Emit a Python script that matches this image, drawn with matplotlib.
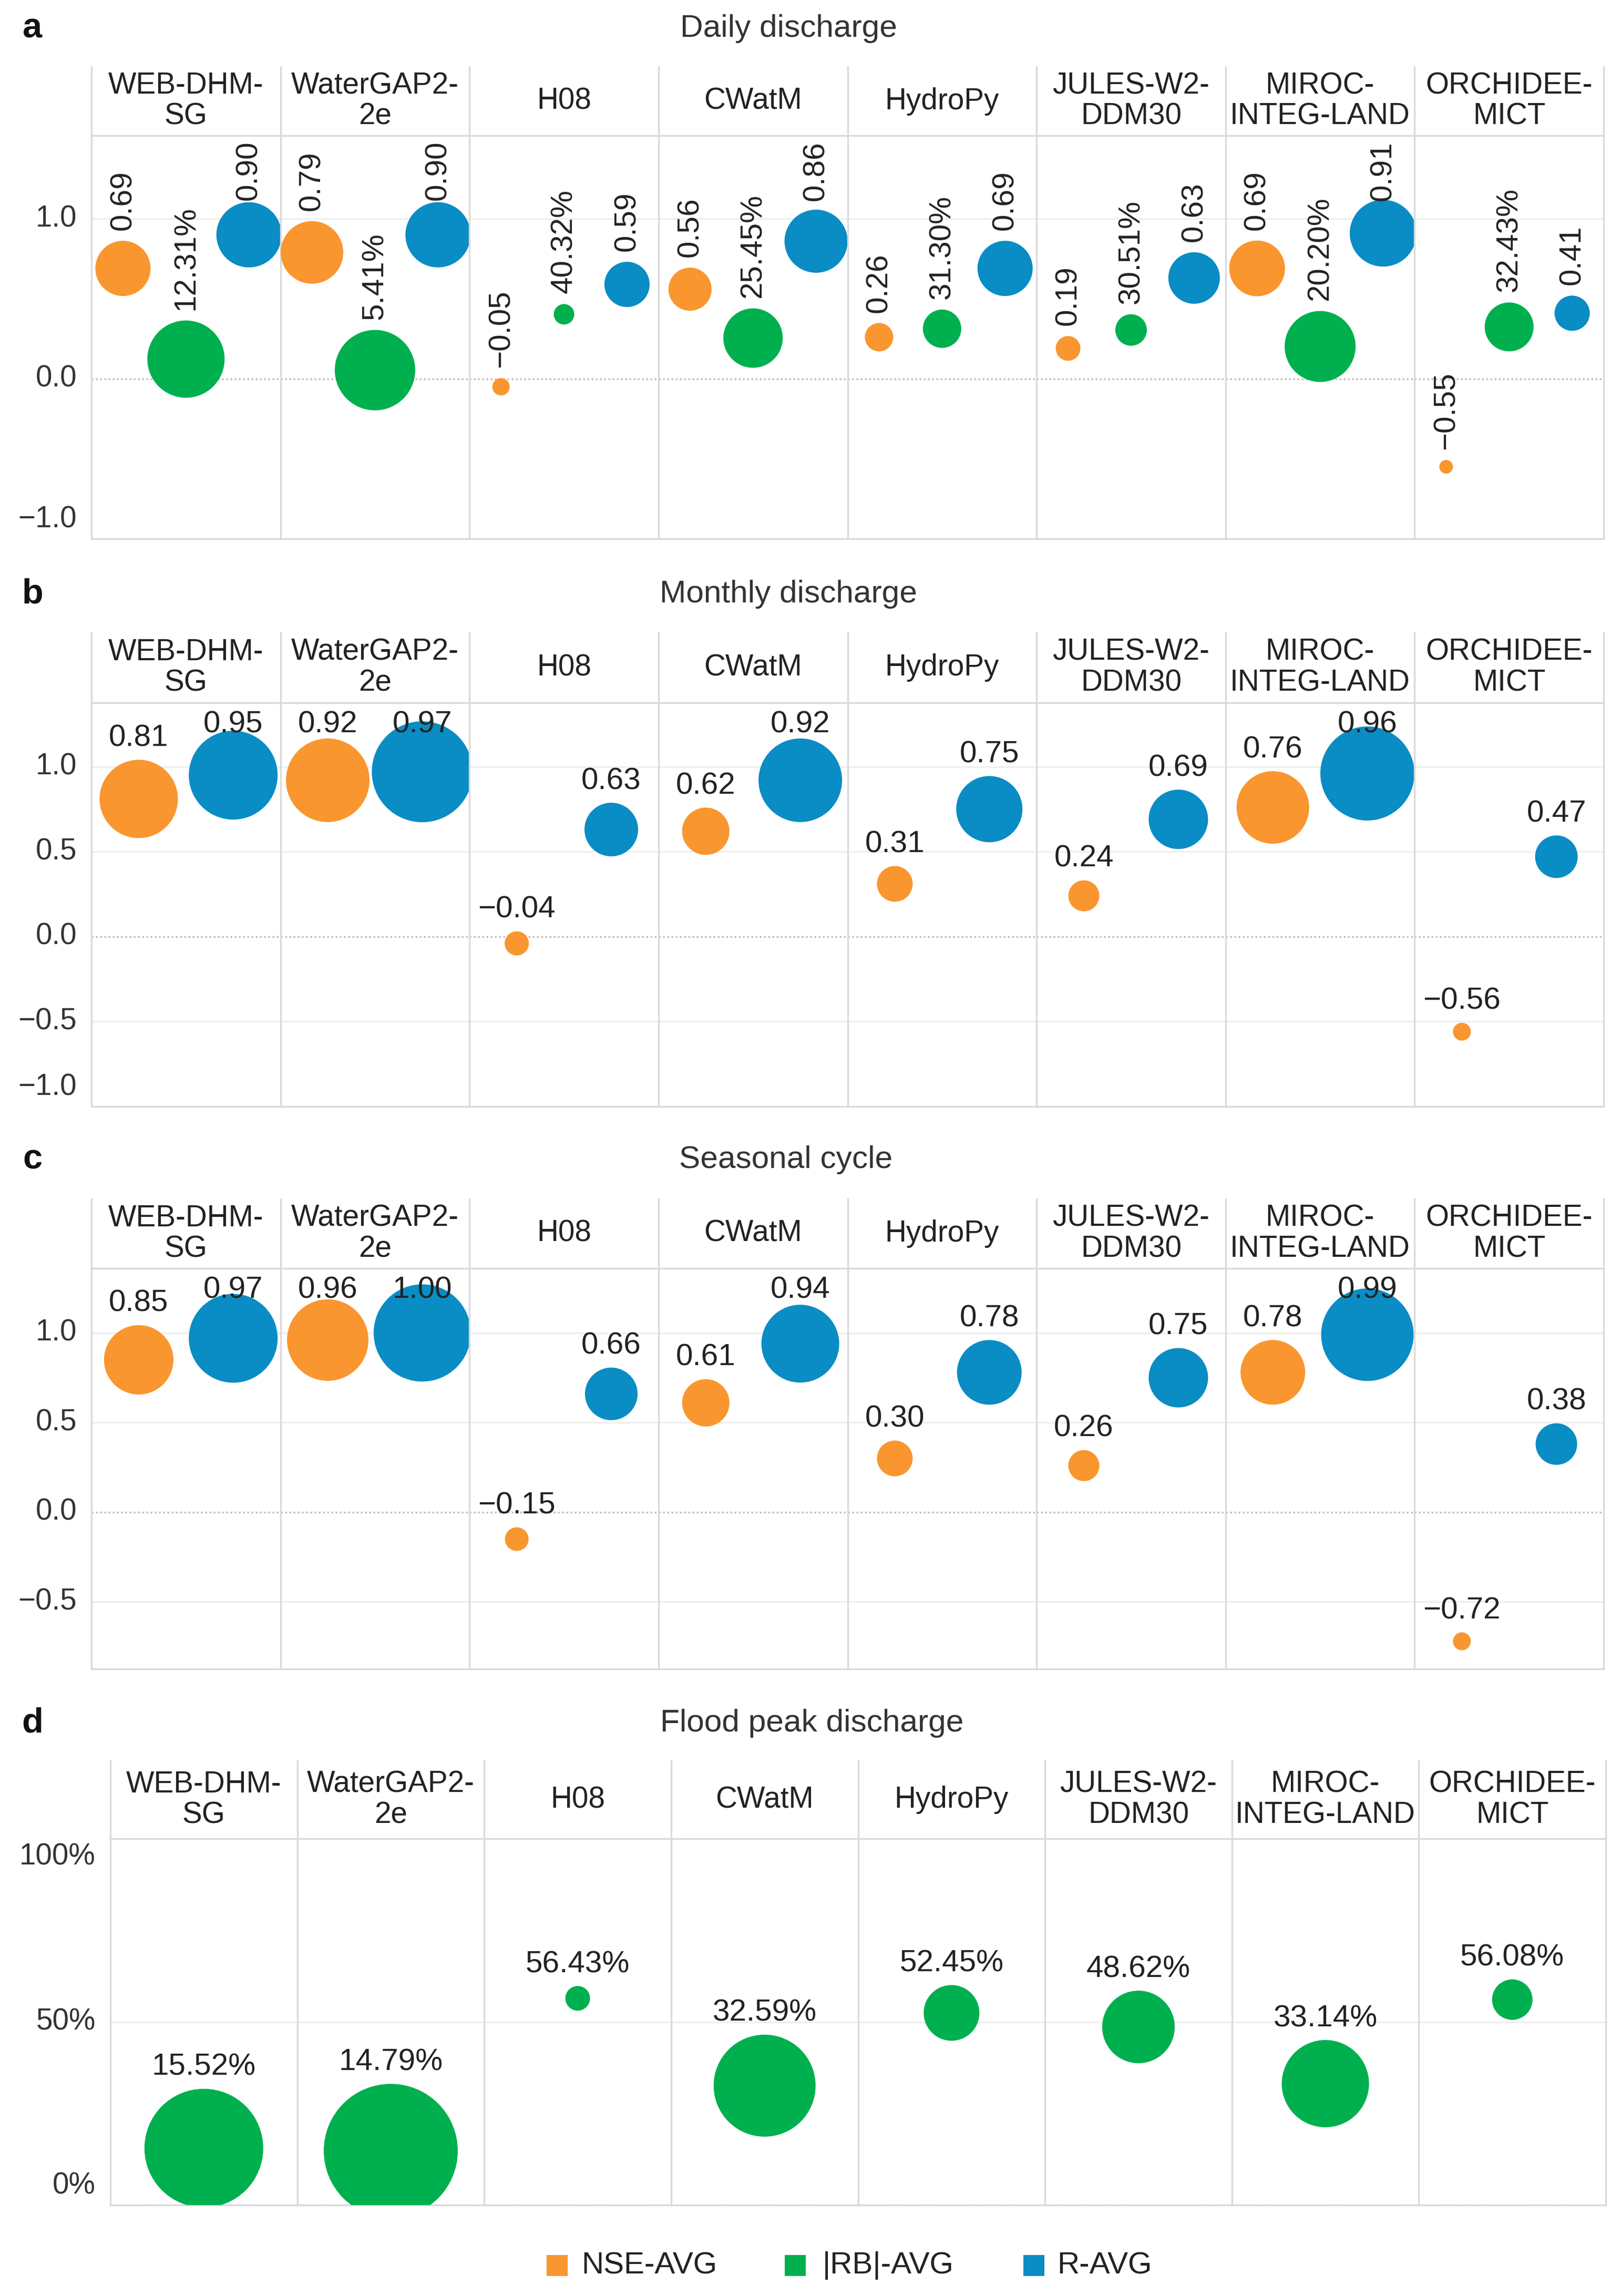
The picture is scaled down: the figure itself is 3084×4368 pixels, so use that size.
import matplotlib
matplotlib.use('Agg')
import matplotlib.pyplot as plt
from matplotlib.lines import Line2D

plt.rcParams['font.family'] = ['Liberation Sans', 'DejaVu Sans']

# ---------------- data ----------------
models = ['WEB-DHM-\nSG', 'WaterGAP2-\n2e', 'H08', 'CWatM', 'HydroPy',
          'JULES-W2-\nDDM30', 'MIROC-\nINTEG-LAND', 'ORCHIDEE-\nMICT']

daily_nse = [0.69, 0.79, -0.05, 0.56, 0.26, 0.19, 0.69, -0.55]
daily_rb = [12.31, 5.41, 40.32, 25.45, 31.30, 30.51, 20.20, 32.43]
daily_r = [0.90, 0.90, 0.59, 0.86, 0.69, 0.63, 0.91, 0.41]

monthly_nse = [0.81, 0.92, -0.04, 0.62, 0.31, 0.24, 0.76, -0.56]
monthly_r = [0.95, 0.97, 0.63, 0.92, 0.75, 0.69, 0.96, 0.47]

seasonal_nse = [0.85, 0.96, -0.15, 0.61, 0.30, 0.26, 0.78, -0.72]
seasonal_r = [0.97, 1.00, 0.66, 0.94, 0.78, 0.75, 0.99, 0.38]

flood_rb = [15.52, 14.79, 56.43, 32.59, 52.45, 48.62, 33.14, 56.08]

# bubble-size measure (relative bubble diameter)
daily_nse_size = [105, 119, 33, 82, 54, 47, 106, 26]
daily_rb_size = [147, 153, 39, 113, 73, 60, 135, 93]
daily_r_size = [124, 124, 86, 120, 105, 98, 127, 67]
monthly_nse_size = [149, 159, 46, 90, 68, 59, 138, 34]
monthly_r_size = [169, 192, 102, 159, 126, 113, 179, 81]
seasonal_nse_size = [132, 155, 45, 90, 68, 59, 123, 34]
seasonal_r_size = [169, 185, 100, 148, 123, 113, 176, 79]
flood_rb_size = [226, 255, 47, 194, 106, 138, 166, 77]

legend_labels = ['NSE-AVG', '|RB|-AVG', 'R-AVG']

# ---------------- style ----------------
W, H = 3084, 4368
DPI = 300
ORANGE = '#F9962F'
GREEN = '#00B04E'
BLUE = '#0A8CC4'
LINE = '#DADADA'
FAINT = '#EFEFEF'
TXT = '#222222'
FS_HEAD = 13.6
FS_TICK = 13.6
FS_LAB = 14


def pt(px):
    return px * 72.0 / DPI


def fmt_num(v):
    s = '{:.2f}'.format(abs(v))
    return ('\u2212' + s) if v < 0 else s


def fmt_pct(v):
    return '{:.2f}%'.format(v)


def tick_fmt_num(v):
    s = '{:.1f}'.format(abs(v))
    return ('\u2212' + s) if v < 0 else s


def tick_fmt_pct(v):
    return '{:.0f}%'.format(v * 100)


fig = plt.figure(figsize=(W / DPI, H / DPI), dpi=DPI)
fig.patch.set_facecolor('white')

panels = [
    dict(letter='a', title='Daily discharge', tx=1500, ty=54, left=174, right=3051,
         htop=127, hbot=258, bottom=1025, ylim=(-1.0, 1.52), ticks=[-1.0, 0.0, 1.0],
         tfmt=tick_fmt_num, rotate=True, xpos=[1 / 6, 1 / 2, 5 / 6],
         series=[(daily_nse, daily_nse_size, ORANGE, False),
                 (daily_rb, daily_rb_size, GREEN, True),
                 (daily_r, daily_r_size, BLUE, False)]),
    dict(letter='b', title='Monthly discharge', tx=1500, ty=1130, left=174, right=3051,
         htop=1203, hbot=1337, bottom=2105, ylim=(-1.0, 1.376),
         ticks=[-1.0, -0.5, 0.0, 0.5, 1.0], tfmt=tick_fmt_num, rotate=False,
         xpos=[1 / 4, 3 / 4],
         series=[(monthly_nse, monthly_nse_size, ORANGE, False),
                 (monthly_r, monthly_r_size, BLUE, False)]),
    dict(letter='c', title='Seasonal cycle', tx=1495, ty=2207, left=174, right=3051,
         htop=2281, hbot=2413, bottom=3175, ylim=(-0.874, 1.36),
         ticks=[-0.5, 0.0, 0.5, 1.0], tfmt=tick_fmt_num, rotate=False,
         xpos=[1 / 4, 3 / 4],
         series=[(seasonal_nse, seasonal_nse_size, ORANGE, False),
                 (seasonal_r, seasonal_r_size, BLUE, False)]),
    dict(letter='d', title='Flood peak discharge', tx=1545, ty=3279, left=210, right=3055,
         htop=3350, hbot=3498, bottom=4195, ylim=(0.0, 1.0),
         ticks=[0.0, 0.5, 1.0], tfmt=tick_fmt_pct, rotate=False,
         xpos=[1 / 2],
         series=[(flood_rb, flood_rb_size, GREEN, True)]),
]

renderer = fig.canvas.get_renderer()
pending = []

for P in panels:
    fig.text(62 / W, 1 - P['ty'] / H, P['letter'], fontsize=16, fontweight='bold',
             ha='center', va='center', color='#111111')
    fig.text(P['tx'] / W, 1 - P['ty'] / H, P['title'], fontsize=14.5,
             ha='center', va='center', color='#333333')
    ncol = len(models)
    colw = (P['right'] - P['left']) / ncol
    ah = P['bottom'] - P['hbot']
    hh = P['hbot'] - P['htop']
    for i, name in enumerate(models):
        ax = fig.add_axes([(P['left'] + i * colw) / W, 1 - P['bottom'] / H,
                           colw / W, ah / H])
        ax.set_xlim(0, 1)
        ax.set_ylim(*P['ylim'])
        ax.set_xticks([])
        ax.set_yticks([])
        for side, sp in ax.spines.items():
            sp.set_color(LINE)
            sp.set_linewidth(0.8)
        ax.spines['right'].set_visible(i == ncol - 1)
        # grid lines
        for t in P['ticks']:
            if abs(t) < 1e-9:
                ax.axhline(t, color='#BDBDBD', lw=0.8, ls=(0, (1, 1.4)), zorder=0.5)
            elif P['ylim'][0] < t < P['ylim'][1]:
                ax.axhline(t, color=FAINT, lw=0.8, zorder=0.5)
        # header
        ax.text(0.5, 1 + (hh / 2) / ah, name, transform=ax.transAxes, ha='center',
                va='center', fontsize=FS_HEAD, color=TXT, linespacing=1.1)
        ax.add_line(Line2D([0, 0], [1, 1 + hh / ah], transform=ax.transAxes,
                           color=LINE, lw=0.8, clip_on=False))
        if i == ncol - 1:
            ax.add_line(Line2D([1, 1], [1, 1 + hh / ah], transform=ax.transAxes,
                               color=LINE, lw=0.8, clip_on=False))
        # y tick labels
        if i == 0:
            for t in P['ticks']:
                va = 'center'
                dy = 0
                if abs(t - P['ylim'][0]) < 1e-9:
                    va = 'bottom'
                    dy = 10
                elif abs(t - P['ylim'][1]) < 1e-9:
                    va = 'top'
                    dy = -8
                ax.annotate(P['tfmt'](t), xy=(0, t), xycoords=('axes fraction', 'data'),
                            xytext=(-28, dy), textcoords='offset pixels', ha='right',
                            va=va, fontsize=FS_TICK, color='#333333',
                            annotation_clip=False)
        # bubbles
        for (vals, sizes, col, is_pct), xp in zip(P['series'], P['xpos']):
            v = vals[i]
            y = v / 100.0 if is_pct else v
            d = sizes[i]
            ax.scatter([xp], [y], s=pt(d) ** 2, color=col, edgecolors='none',
                       linewidths=0, zorder=3)
            lab = fmt_pct(v) if is_pct else fmt_num(v)
            pending.append((ax, xp, y, d, lab, P['rotate']))

# labels with in-pane clamping
cap_h = 0.716 * FS_LAB * DPI / 72.0
for ax, xp, y, d, lab, rot in pending:
    cx, cy = ax.transData.transform((xp, y))
    top = ax.bbox.y1
    r = d / 2.0
    if rot:
        gap, margin = 20, 10
        t = ax.annotate(lab, xy=(xp, y), xycoords='data', xytext=(0, r + gap),
                        textcoords='offset pixels', rotation=90,
                        rotation_mode='anchor', ha='left', va='center',
                        fontsize=FS_LAB, color=TXT, zorder=5, annotation_clip=False)
        L = t.get_window_extent(renderer).height
        if cy + r + gap + L > top - margin:
            t.xyann = (0, top - margin - L - cy)
    else:
        gap, margin = 26, 15
        off = r + gap
        if cy + off + cap_h > top - margin:
            off = top - margin - cap_h - cy
        ax.annotate(lab, xy=(xp, y), xycoords='data', xytext=(0, off),
                    textcoords='offset pixels', ha='center', va='baseline',
                    fontsize=FS_LAB, color=TXT, zorder=5, annotation_clip=False)

# legend
leg_y = 1 - 4310 / H
for col, sx, tx, lab in [(ORANGE, 1060, 1106, legend_labels[0]),
                         (GREEN, 1513, 1565, legend_labels[1]),
                         (BLUE, 1967, 2011, legend_labels[2])]:
    fig.add_artist(Line2D([sx / W], [leg_y], marker='s', markersize=pt(40),
                          color=col, markeredgewidth=0, linestyle='none',
                          transform=fig.transFigure))
    fig.text(tx / W, leg_y, lab, ha='left', va='center', fontsize=14, color=TXT)

fig.savefig('out.png', dpi=DPI, facecolor='white')
